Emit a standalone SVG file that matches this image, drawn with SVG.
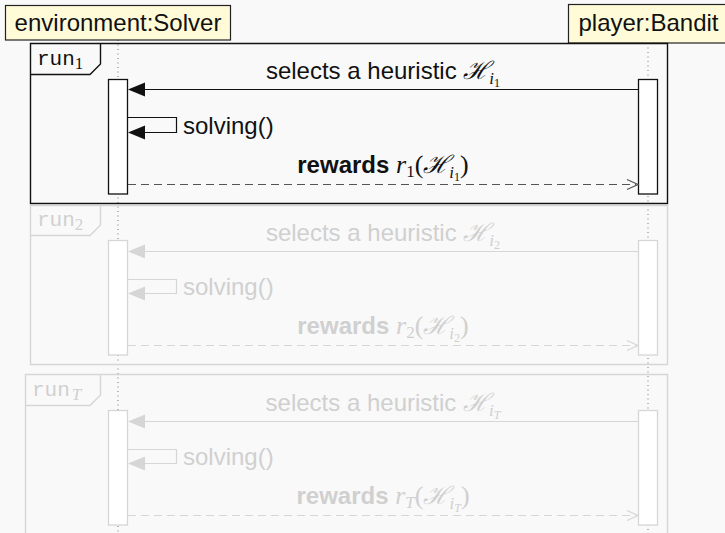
<svg xmlns="http://www.w3.org/2000/svg" width="725" height="533" viewBox="0 0 725 533">
  <style>
    .lbl { font-family: "Liberation Sans", Arial, sans-serif; font-size: 24px; }
    .math { font-family: "Liberation Serif", "DejaVu Serif", serif; font-style: italic; font-size: 26px; }
    .up { font-style: normal; }
    .sub { font-size: 17px; }
    .subsub { font-size: 12px; }
    .cal { font-family: "DejaVu Serif", serif; font-style: italic; font-size: 25px; }
    .mono { font-family: "Liberation Mono", "DejaVu Sans Mono", monospace; font-size: 21px; }
    .head { fill: #fffbd8; stroke: #222; stroke-width: 1.2; }
    .life { stroke: #777; stroke-width: 1; stroke-dasharray: 1 3.5; fill: none; }
    .act { fill: #ffffff; stroke-width: 1.3; }
    .on .act, .on .frame, .on .msg, .on .ret { stroke: #111; }
    .on text { fill: #111; }
    .off .act, .off .frame, .off .msg, .off .ret { stroke: #d6d6d6; }
    .off text { fill: #d0d0d0; }
    .frame { fill: none; stroke-width: 1.4; }
    .msg { fill: none; stroke-width: 1.2; }
    .ret { fill: none; stroke-width: 1.2; stroke-dasharray: 8 5; }
    .on .ret { stroke: #555; }
    .on .tip { fill: #111; }
    .off .tip { fill: #d6d6d6; }
    .on .open { stroke: #555; }
    .off .open { stroke: #d6d6d6; }
    .open { fill: none; stroke-width: 1.2; }
  </style>
  <defs>
    <!-- filled head for synchronous calls -->
    <path id="fill-head" d="M0,0 L17,-7 L17,7 Z"/>
    <!-- open head for replies -->
    <path id="open-head" d="M-11,-5 L0,0 L-11,5"/>
  </defs>

  <rect x="0" y="0" width="725" height="533" fill="#f9f9f9"/>

  <!-- lifelines -->
  <g id="lifelines">
    <line class="life" x1="118" y1="40" x2="118" y2="533"/>
    <line class="life" x1="648" y1="43" x2="648" y2="533"/>
  </g>

  <!-- participant heads -->
  <g id="environment">
    <rect class="head" x="5.5" y="5.5" width="225" height="34.5"/>
    <text class="lbl" x="118" y="31" text-anchor="middle" font-size="25.5" fill="#111">environment:Solver</text>
  </g>
  <g id="player">
    <rect class="head" x="568.5" y="4.5" width="160" height="38.5"/>
    <text class="lbl" x="648.5" y="31" text-anchor="middle" font-size="25.5" fill="#111">player:Bandit</text>
  </g>

  <!-- iteration 1 -->
  <g id="run1" class="on">
    <path class="frame" d="M30.5,43.5 H667.5 V203.5 H30.5 Z"/>
    <path class="frame" d="M30.5,74.5 H90 L100.5,64 V43.5"/>
    <text class="mono" x="37" y="65">run<tspan class="math up sub" dy="4">1</tspan></text>
    <rect class="act" x="108.5" y="79.5" width="19" height="114.5"/>
    <rect class="act" x="638.5" y="79.5" width="19" height="114.5"/>
  </g>

  <!-- iteration 2 -->
  <g id="run2" class="off">
    <path class="frame" d="M30.5,205.5 H667.5 V364.5 H30.5 Z"/>
    <path class="frame" d="M30.5,235.5 H90 L100.5,225 V205.5"/>
    <text class="mono" x="37" y="226">run<tspan class="math up sub" dy="4">2</tspan></text>
    <rect class="act" x="108.5" y="240.5" width="19" height="114.5"/>
    <rect class="act" x="638.5" y="240.5" width="19" height="114.5"/>
  </g>

  <!-- last iteration -->
  <g id="runT" class="off">
    <path class="frame" d="M25.5,540 V374.5 H667.5 V540"/>
    <path class="frame" d="M25.5,405.5 H90 L100.5,395 V374.5"/>
    <text class="mono" x="32" y="396">run<tspan class="math sub" dy="4" dx="2">T</tspan></text>
    <rect class="act" x="108.5" y="410.5" width="19" height="114.5"/>
    <rect class="act" x="638.5" y="410.5" width="19" height="114.5"/>
  </g>

  <!-- messages -->
  <g id="connectors">
    <g class="on">
      <line class="msg" x1="638" y1="89.5" x2="140" y2="89.5"/>
      <use href="#fill-head" class="tip" x="128" y="89.5"/>
      <text class="lbl" x="383" y="79" text-anchor="middle">selects a heuristic <tspan class="cal">ℋ</tspan><tspan class="math sub" dy="5">i</tspan><tspan class="math up subsub" dy="3">1</tspan></text>
      <path class="msg" d="M128,117.5 H176.5 V132.5 H140"/>
      <use href="#fill-head" class="tip" x="128" y="132.5"/>
      <text class="lbl" x="183" y="134">solving()</text>
      <line class="ret" x1="128" y1="184.5" x2="636" y2="184.5"/>
      <use href="#open-head" class="open" x="638" y="184.5"/>
      <text class="lbl" x="383" y="173" text-anchor="middle"><tspan font-weight="bold">rewards</tspan> <tspan class="math">r</tspan><tspan class="math up sub" dy="4">1</tspan><tspan class="math up" dy="-4">(</tspan><tspan class="cal">ℋ</tspan><tspan class="math sub" dy="5">i</tspan><tspan class="math up subsub" dy="3">1</tspan><tspan class="math up" dy="-8">)</tspan></text>
    </g>
    <g class="off">
      <line class="msg" x1="638" y1="251.5" x2="140" y2="251.5"/>
      <use href="#fill-head" class="tip" x="128" y="251.5"/>
      <text class="lbl" x="383" y="241" text-anchor="middle">selects a heuristic <tspan class="cal">ℋ</tspan><tspan class="math sub" dy="5">i</tspan><tspan class="math up subsub" dy="3">2</tspan></text>
      <path class="msg" d="M128,279.5 H176.5 V293.5 H140"/>
      <use href="#fill-head" class="tip" x="128" y="293.5"/>
      <text class="lbl" x="183" y="295">solving()</text>
      <line class="ret" x1="128" y1="345.5" x2="636" y2="345.5"/>
      <use href="#open-head" class="open" x="638" y="345.5"/>
      <text class="lbl" x="383" y="334" text-anchor="middle"><tspan font-weight="bold">rewards</tspan> <tspan class="math">r</tspan><tspan class="math up sub" dy="4">2</tspan><tspan class="math up" dy="-4">(</tspan><tspan class="cal">ℋ</tspan><tspan class="math sub" dy="5">i</tspan><tspan class="math up subsub" dy="3">2</tspan><tspan class="math up" dy="-8">)</tspan></text>
    </g>
    <g class="off">
      <line class="msg" x1="638" y1="421.5" x2="140" y2="421.5"/>
      <use href="#fill-head" class="tip" x="128" y="421.5"/>
      <text class="lbl" x="383" y="411" text-anchor="middle">selects a heuristic <tspan class="cal">ℋ</tspan><tspan class="math sub" dy="5">i</tspan><tspan class="math subsub" dy="3">T</tspan></text>
      <path class="msg" d="M128,449.5 H176.5 V463.5 H140"/>
      <use href="#fill-head" class="tip" x="128" y="463.5"/>
      <text class="lbl" x="183" y="465">solving()</text>
      <line class="ret" x1="128" y1="515.5" x2="636" y2="515.5"/>
      <use href="#open-head" class="open" x="638" y="515.5"/>
      <text class="lbl" x="383" y="504" text-anchor="middle"><tspan font-weight="bold">rewards</tspan> <tspan class="math">r</tspan><tspan class="math sub" dy="4">T</tspan><tspan class="math up" dy="-4">(</tspan><tspan class="cal">ℋ</tspan><tspan class="math sub" dy="5">i</tspan><tspan class="math subsub" dy="3">T</tspan><tspan class="math up" dy="-8">)</tspan></text>
    </g>
  </g>
</svg>
